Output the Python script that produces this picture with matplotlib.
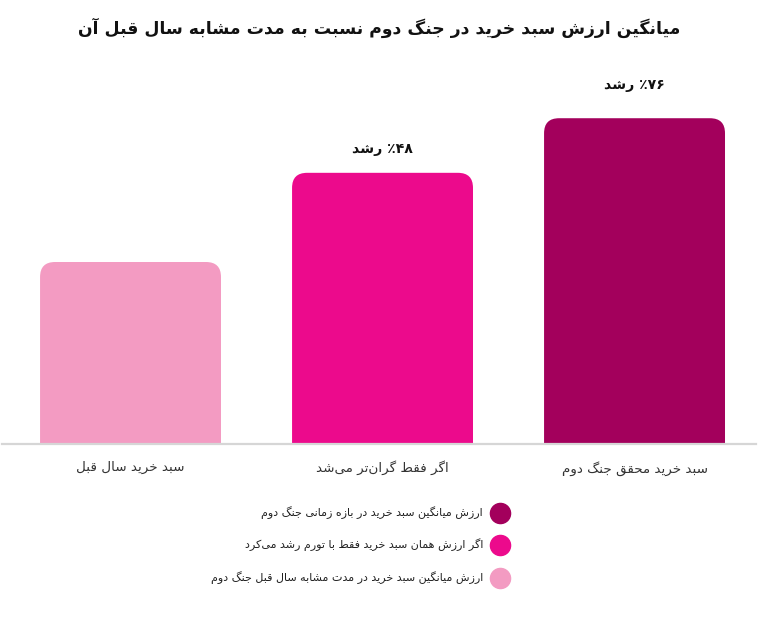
import re
import matplotlib
matplotlib.use("Agg")
import matplotlib.pyplot as plt
from matplotlib.patches import FancyBboxPatch

# chart data (logical Persian text)
title = "میانگین ارزش سبد خرید در جنگ دوم نسبت به مدت مشابه سال قبل آن"
categories = ["سبد خرید سال قبل", "اگر فقط گران\u200cتر می\u200cشد", "سبد خرید محقق جنگ دوم"]
values = [100, 149, 179]
growth_labels = ["", "۴۸٪ رشد", "۷۶٪ رشد"]
bar_colors = ["#F39BC2", "#EC0A8C", "#A3005C"]
legend_labels = [
    "ارزش میانگین سبد خرید در بازه زمانی جنگ دوم",
    "اگر ارزش همان سبد خرید فقط با تورم رشد می\u200cکرد",
    "ارزش میانگین سبد خرید در مدت مشابه سال قبل جنگ دوم",
]
legend_colors = ["#A3005C", "#EC0A8C", "#F39BC2"]

# presentation forms: isolated, final, initial, medial
FORMS = {
    "\u0622": ("\uFE81", "\uFE82", None, None),
    "\u0627": ("\uFE8D", "\uFE8E", None, None),
    "\u0628": ("\uFE8F", "\uFE90", "\uFE91", "\uFE92"),
    "\u062A": ("\uFE95", "\uFE96", "\uFE97", "\uFE98"),
    "\u062C": ("\uFE9D", "\uFE9E", "\uFE9F", "\uFEA0"),
    "\u062D": ("\uFEA1", "\uFEA2", "\uFEA3", "\uFEA4"),
    "\u062E": ("\uFEA5", "\uFEA6", "\uFEA7", "\uFEA8"),
    "\u062F": ("\uFEA9", "\uFEAA", None, None),
    "\u0631": ("\uFEAD", "\uFEAE", None, None),
    "\u0632": ("\uFEAF", "\uFEB0", None, None),
    "\u0633": ("\uFEB1", "\uFEB2", "\uFEB3", "\uFEB4"),
    "\u0634": ("\uFEB5", "\uFEB6", "\uFEB7", "\uFEB8"),
    "\u0637": ("\uFEC1", "\uFEC2", "\uFEC3", "\uFEC4"),
    "\u0641": ("\uFED1", "\uFED2", "\uFED3", "\uFED4"),
    "\u0642": ("\uFED5", "\uFED6", "\uFED7", "\uFED8"),
    "\u0644": ("\uFEDD", "\uFEDE", "\uFEDF", "\uFEE0"),
    "\u0645": ("\uFEE1", "\uFEE2", "\uFEE3", "\uFEE4"),
    "\u0646": ("\uFEE5", "\uFEE6", "\uFEE7", "\uFEE8"),
    "\u0647": ("\uFEE9", "\uFEEA", "\uFEEB", "\uFEEC"),
    "\u0648": ("\uFEED", "\uFEEE", None, None),
    "\u06CC": ("\uFBFC", "\uFBFD", "\uFBFE", "\uFBFF"),
    "\u06A9": ("\uFB8E", "\uFB8F", "\uFB90", "\uFB91"),
    "\u06AF": ("\uFB92", "\uFB93", "\uFB94", "\uFB95"),
}


def fa(text):
    # join letters, then put them in visual (left to right) order
    out = []
    for i, c in enumerate(text):
        if c not in FORMS:
            out.append(c)
            continue
        prev = text[i - 1] if i > 0 else None
        nxt = text[i + 1] if i + 1 < len(text) else None
        jp = prev in FORMS and FORMS[prev][2] is not None
        jn = FORMS[c][2] is not None and nxt in FORMS
        iso, fin, ini, med = FORMS[c]
        out.append(med if jp and jn else fin if jp else ini if jn else iso)
    s = "".join(out).replace("\u200c", "")[::-1]
    return re.sub("[۰-۹]+", lambda m: m.group(0)[::-1], s)


plt.rcParams["font.family"] = ["DejaVu Sans"]
fig = plt.figure(figsize=(7.8, 6.25), dpi=100)
W, H = 780, 625
ax = fig.add_axes([2 / W, (H - 444) / H, 754 / W, 364 / H])
ax.set_xlim(-0.51, 2.482)
ax.set_ylim(0, 200)

x = list(range(len(values)))
bars = ax.bar(x, values, width=0.718, color=bar_colors)
px_x = 1 / 252
px_y = 200 / 364
for b, col in zip(bars, bar_colors):
    b.set_visible(False)
    r = 15 * px_x
    patch = FancyBboxPatch((b.get_x(), -20), b.get_width(), b.get_height() + 20,
                           boxstyle="round,pad=0,rounding_size=%f" % r,
                           mutation_aspect=px_y / px_x, facecolor=col,
                           edgecolor="none", clip_on=True)
    ax.add_patch(patch)

ax.axhline(0, color="#d6d6d6", lw=1.6, zorder=3, clip_on=False)

offsets = [0, 24, 33]
for xi, v, lab, off in zip(x, values, growth_labels, offsets):
    if lab:
        ax.annotate(fa(lab), (xi, v), xytext=(0, off), textcoords="offset pixels",
                    ha="center", va="center", fontsize=10.2, fontweight="bold",
                    color="#111111")

ax.set_xticks(x)
ax.set_xticklabels([fa(c) for c in categories], fontsize=9.7, color="#333333")
ax.tick_params(axis="x", length=0, pad=12)
ax.set_yticks([])
for s in ax.spines.values():
    s.set_visible(False)

fig.text(379 / W, 1 - 28 / H, fa(title), ha="center", va="center",
         fontsize=12.4, fontweight="bold", color="#111111")

rows = [513, 545, 578]
for lab, col, ry in zip(legend_labels, legend_colors, rows):
    fig.text(483 / W, 1 - ry / H, fa(lab), ha="right", va="center",
             fontsize=8, color="#222222")
    ax.plot([500 / W], [1 - ry / H], "o", color=col, markersize=14.5,
            transform=fig.transFigure, clip_on=False)

fig.savefig("out.png", dpi=100)
